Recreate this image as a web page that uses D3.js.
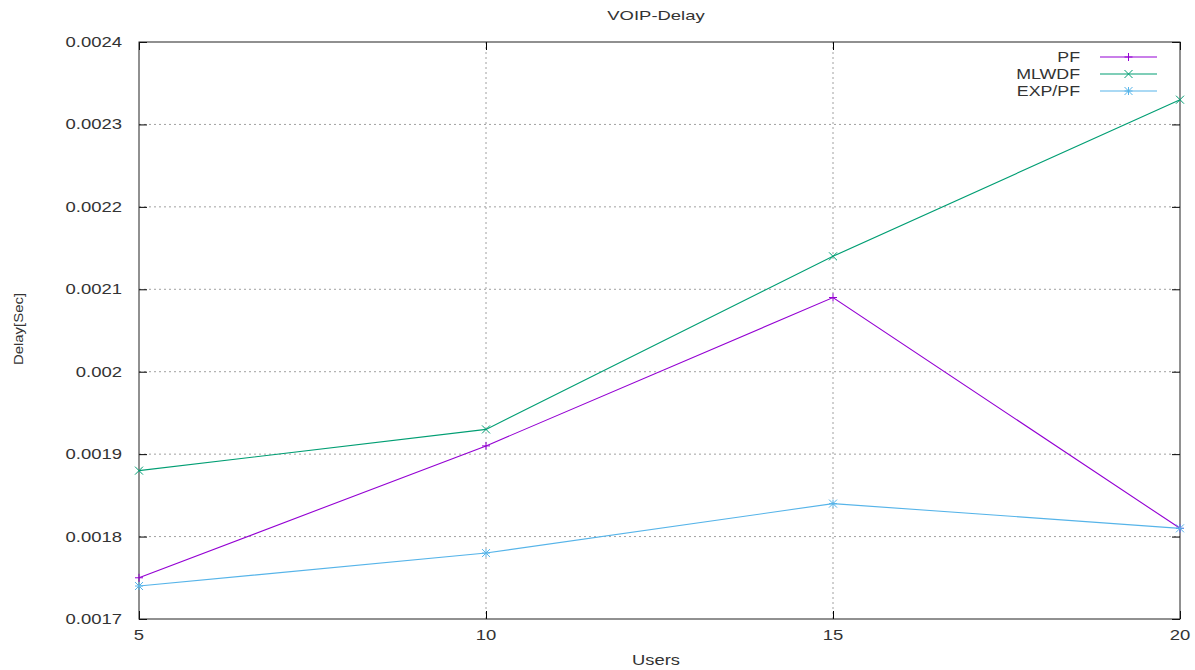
<!DOCTYPE html>
<html><head><meta charset="utf-8">
<script src="https://cdn.jsdelivr.net/npm/d3@7"></script>
<style>body{margin:0;background:#fff;} text{font-family:"Liberation Sans",Arial,sans-serif;}</style>
</head><body><svg id="c" width="1195" height="670"></svg>
<script>
const users = [5, 10, 15, 20];
const pf = [0.00175, 0.00191, 0.00209, 0.00181];
const mlwdf = [0.00188, 0.00193, 0.00214, 0.00233];
const exppf = [0.00174, 0.00178, 0.00184, 0.00181];
const yTicks = [0.0017, 0.0018, 0.0019, 0.002, 0.0021, 0.0022, 0.0023, 0.0024];
const yTickLabels = ["0.0017","0.0018","0.0019","0.002","0.0021","0.0022","0.0023","0.0024"];
const xTicks = [5, 10, 15, 20];
const seriesNames = ["PF", "MLWDF", "EXP/PF"];
const colors = ["#9400d3", "#009e73", "#56b4e9"];
const markers = ["plus", "cross", "star"];

const svg = d3.select("#c");
const L = 139, R = 1180, T = 42, B = 619;
const x = d3.scaleLinear().domain([5, 20]).range([L, R]);
const y = d3.scaleLinear().domain([0.0017, 0.0024]).range([B, T]);
const SX = 1.32;

function label(px, py, str, anchor, size, sx, rot) {
  const gg = svg.append("g").attr("transform", `translate(${px},${py})` + (rot ? ` rotate(${rot})` : "") + ` scale(${sx},1)`);
  gg.append("text").attr("x", 0).attr("y", 0).attr("text-anchor", anchor).attr("font-size", size).attr("fill", "#333").text(str);
}

// grid
const g = svg.append("g");
xTicks.forEach(t => {
  if (t !== 5 && t !== 20) g.append("line").attr("x1", x(t)).attr("x2", x(t)).attr("y1", T).attr("y2", B)
    .attr("stroke", "#a0a0a0").attr("stroke-width", 1).attr("stroke-dasharray", "2,3");
});
yTicks.forEach(t => {
  if (t !== 0.0017 && t !== 0.0024) g.append("line").attr("x1", L).attr("x2", R).attr("y1", y(t)).attr("y2", y(t))
    .attr("stroke", "#a0a0a0").attr("stroke-width", 1).attr("stroke-dasharray", "2,3");
});

// axes with inward ticks (labels drawn separately)
const ya = svg.append("g").attr("transform", `translate(${L},0)`).call(d3.axisLeft(y).tickValues(yTicks).tickSizeInner(-8).tickSizeOuter(0).tickFormat(""));
const yr = svg.append("g").attr("transform", `translate(${R},0)`).call(d3.axisRight(y).tickValues(yTicks).tickSizeInner(-8).tickSizeOuter(0).tickFormat(""));
const xa = svg.append("g").attr("transform", `translate(0,${B})`).call(d3.axisBottom(x).tickValues(xTicks).tickSizeInner(-8).tickSizeOuter(0).tickFormat(""));
const xt = svg.append("g").attr("transform", `translate(0,${T})`).call(d3.axisTop(x).tickValues(xTicks).tickSizeInner(-8).tickSizeOuter(0).tickFormat(""));
[ya, yr, xa, xt].forEach(a => {
  a.select(".domain").attr("stroke", "none");
  a.selectAll(".tick line").attr("stroke", "#000");
});
yTicks.forEach((t, i) => label(122, y(t) + 5, yTickLabels[i], "end", 14, SX));
xTicks.forEach(t => label(x(t), 640, d3.format("d")(t), "middle", 14, SX));

// border
svg.append("rect").attr("x", L).attr("y", T).attr("width", R - L).attr("height", B - T)
  .attr("fill", "none").attr("stroke", "#222").attr("stroke-width", 1);

function drawMarker(sel, type, cx, cy, color) {
  const s = 4;
  const p = d3.path();
  if (type === "plus" || type === "star") { p.moveTo(cx - s, cy); p.lineTo(cx + s, cy); p.moveTo(cx, cy - s); p.lineTo(cx, cy + s); }
  if (type === "cross" || type === "star") { p.moveTo(cx - s, cy - s); p.lineTo(cx + s, cy + s); p.moveTo(cx - s, cy + s); p.lineTo(cx + s, cy - s); }
  sel.append("path").attr("d", p.toString()).attr("stroke", color).attr("stroke-width", 1).attr("fill", "none");
}

const data = [pf, mlwdf, exppf];
const line = d3.line().x((d, i) => x(users[i])).y(d => y(d));
data.forEach((vals, k) => {
  const sg = svg.append("g");
  sg.append("path").datum(vals).attr("d", line).attr("fill", "none").attr("stroke", colors[k]).attr("stroke-width", 1.1);
  vals.forEach((v, i) => drawMarker(sg, markers[k], x(users[i]), y(v), colors[k]));
});

// legend
seriesNames.forEach((n, k) => {
  const ly = 57 + k * 17;
  label(1080, ly + 5, n, "end", 14, 1.27);
  svg.append("line").attr("x1", 1100).attr("x2", 1157).attr("y1", ly).attr("y2", ly).attr("stroke", colors[k]).attr("stroke-width", 1.1);
  drawMarker(svg, markers[k], 1128.5, ly, colors[k]);
});

label(656, 20, "VOIP-Delay", "middle", 13, 1.42);
label(656, 665, "Users", "middle", 14, 1.31);
// rotated label: stretch along its length
const rg = svg.append("g").attr("transform", `translate(23,329) rotate(-90) scale(1.15,1)`);
rg.append("text").attr("text-anchor", "middle").attr("font-size", 13).attr("fill", "#333").text("Delay[Sec]");
</script></body></html>
